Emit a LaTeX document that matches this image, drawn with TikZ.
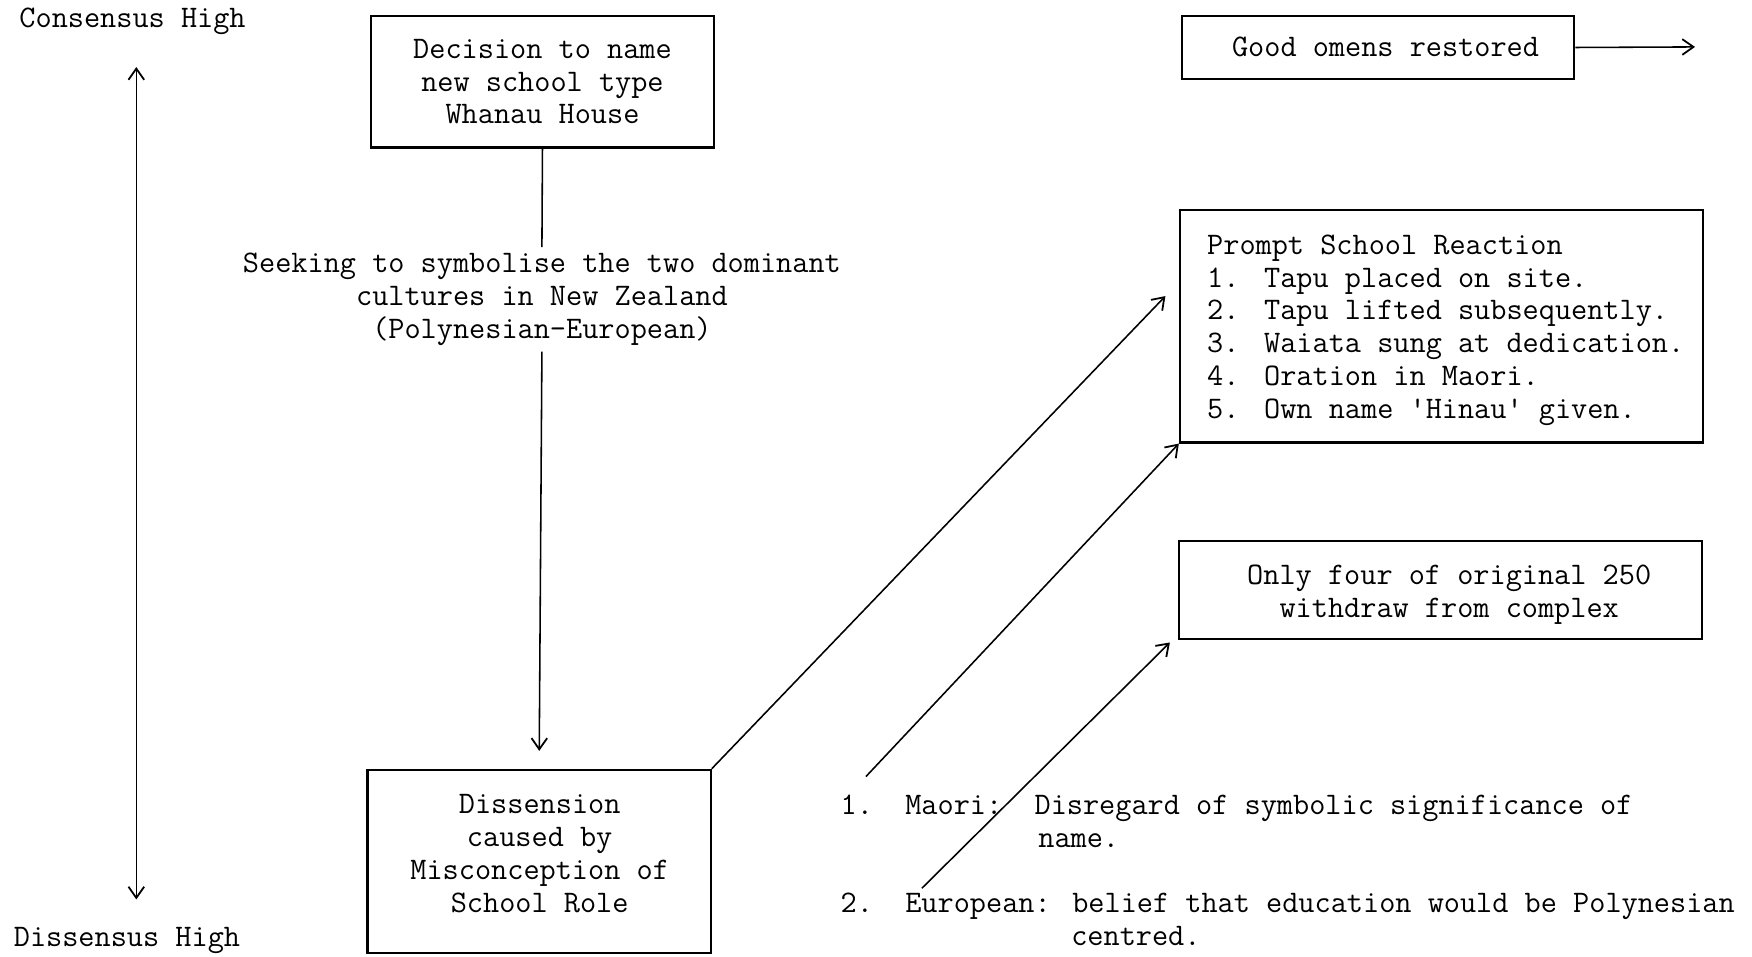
\documentclass[tikz,border=0pt]{standalone}
\usepackage{fontspec}
\usetikzlibrary{arrows.meta,fit}
\begin{document}
\begin{tikzpicture}[x=0.5pt,y=-0.5pt,
  tw/.style={font=\ttfamily\fontsize{14.04}{14.7}\selectfont, inner sep=0pt},
  box/.style={draw, line width=1pt, inner sep=0pt},
  link/.style={line width=0.7pt},
  barb/.tip={Straight Barb[length=5pt,width=7pt,line width=0.8pt]},
  tip/.style={-barb}]
\useasboundingbox (0,0) rectangle (1568,856);

% consensus / dissensus axis
\node[tw, anchor=west] (cons) at (17,19) {Consensus High};
\node[tw, anchor=west] (diss) at (12,842) {Dissensus High};
\coordinate (axtop) at (122,60);
\coordinate (axbot) at (122,805);
\draw[link, barb-barb] (axtop) -- (axbot);

% central column
\node[box, fit={(332,14) (639,132)}] (decide) {};
\node[tw, align=center] at (decide.center) {Decision to name\\new school type\\Whanau House};

\node[tw, align=center, inner ysep=2.5pt] (seek) at (485,268)
  {Seeking to symbolise the two dominant\\cultures in New Zealand\\(Polynesian-European)};

\node[box, fit={(329,689) (636,853)}] (dissent) {};
\node[tw, align=center] at (483,764) {Dissension\\caused by\\Misconception of\\School Role};

\draw[link] (decide.south) -- (seek.north);
\draw[link, tip, shorten >=8pt] (seek.south) -- (dissent.north);

% outcomes on the right
\node[box, fit={(1058,14) (1409,71)}] (omens) {};
\node[tw] at (1240,42) {Good omens restored};
\coordinate (omensout) at (1517,42);
\draw[link, tip] (omens.east) -- (omensout);

\node[box, fit={(1056,188) (1524,396)}] (prompt) {};
\node[tw, align=left, anchor=west] at (1080,295.5)
  {Prompt School Reaction\\
   \makebox[25.5pt][l]{1.}Tapu placed on site.\\
   \makebox[25.5pt][l]{2.}Tapu lifted subsequently.\\
   \makebox[25.5pt][l]{3.}Waiata sung at dedication.\\
   \makebox[25.5pt][l]{4.}Oration in Maori.\\
   \makebox[25.5pt][l]{5.}Own name 'Hinau' given.};

\node[box, fit={(1055,484) (1523,572)}] (only) {};
\node[tw, align=center] at (1297,532) {Only four of original 250\\withdraw from complex};

% misconceptions
\node[tw, align=left, anchor=west] (maori) at (752,735)
  {1.~~Maori:~~Disregard of symbolic significance of\\\hspace*{88.45pt}name.};
\node[tw, align=left, anchor=west] (europ) at (752,823)
  {2.~~European: belief that education would be Polynesian\\\hspace*{103.19pt}centred.};

% links from the dissension box and the misconceptions
\coordinate (reactA) at (1043,265);
\coordinate (maorifoot) at (775,695);
\coordinate (europfoot) at (825,795);
\coordinate (onlytip) at (1047,575);
\draw[link, tip] (dissent.north east) -- (reactA);
\draw[link, tip] (maorifoot) -- (prompt.south west);
\draw[link, tip] (europfoot) -- (onlytip);
\end{tikzpicture}
\end{document}
